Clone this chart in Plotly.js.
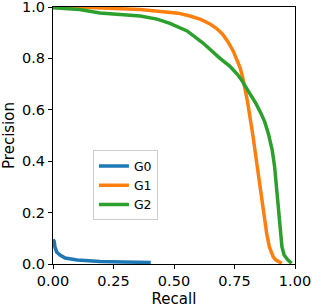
<!DOCTYPE html>
<html>
<head>
<meta charset="utf-8">
<script src="https://cdn.plot.ly/plotly-3.0.1.min.js"></script>
<style>html,body{margin:0;padding:0;background:#fff;}#chart{width:312px;height:308px;}</style>
</head>
<body>
<div id="chart"></div>
<script>
// G0
var g0Recall = [0.0, 0.005, 0.008, 0.015, 0.029, 0.05, 0.1, 0.194, 0.29, 0.404];
var g0Precision = [0.095, 0.088, 0.066, 0.047, 0.035, 0.023, 0.016, 0.010, 0.008, 0.006];
// G1
var g1Recall = [0.0, 0.124, 0.36, 0.483, 0.517, 0.566, 0.61, 0.649, 0.675, 0.70, 0.722, 0.744, 0.76, 0.773, 0.784, 0.793, 0.803, 0.825, 0.844, 0.865, 0.883, 0.894, 0.903, 0.91, 0.92, 0.931, 0.945];
var g1Precision = [1.0, 0.999, 0.99, 0.981, 0.976, 0.965, 0.952, 0.934, 0.917, 0.895, 0.866, 0.83, 0.795, 0.764, 0.725, 0.686, 0.636, 0.507, 0.377, 0.248, 0.119, 0.067, 0.042, 0.028, 0.016, 0.009, 0.003];
// G2
var g2Recall = [0.0, 0.11, 0.194, 0.277, 0.36, 0.43, 0.483, 0.554, 0.62, 0.69, 0.73, 0.76, 0.78, 0.80, 0.82, 0.84, 0.86, 0.875, 0.89, 0.906, 0.916, 0.927, 0.941, 0.946, 0.955, 0.97, 0.986];
var g2Precision = [0.997, 0.99, 0.977, 0.972, 0.965, 0.953, 0.936, 0.907, 0.86, 0.80, 0.770, 0.740, 0.715, 0.683, 0.655, 0.622, 0.585, 0.553, 0.507, 0.442, 0.377, 0.248, 0.119, 0.067, 0.035, 0.016, 0.003];

var names = ['G0', 'G1', 'G2'];
var colors = ['#1f77b4', '#ff7f0e', '#2ca02c'];
var xs = [g0Recall, g1Recall, g2Recall];
var ys = [g0Precision, g1Precision, g2Precision];

var traces = names.map(function(n, i) {
  return {x: xs[i], y: ys[i], name: n, type: 'scatter', mode: 'lines',
          line: {color: colors[i], width: 3.5}};
});

var fam = 'DejaVu Sans, sans-serif';
var tickFont = {family: fam, size: 14.5, color: '#000'};
var titleFont = {family: fam, size: 15, color: '#000'};
var legFont = {family: fam, size: 12.5, color: '#000'};
var layout = {
  width: 312, height: 308,
  margin: {l: 53, r: 17, t: 7, b: 44},
  paper_bgcolor: '#fff', plot_bgcolor: '#fff',
  font: tickFont,
  showlegend: true,
  legend: {x: 0.165, y: 0.442, xanchor: 'left', yanchor: 'top',
           bordercolor: '#cccccc', borderwidth: 1, bgcolor: '#fff',
           font: legFont, tracegroupgap: 0},
  xaxis: {range: [0, 1], tickvals: [0, 0.25, 0.5, 0.75, 1.0],
          ticktext: ['0.00', '0.25', '0.50', '0.75', '1.00'],
          showgrid: false, zeroline: false, showline: true, mirror: true,
          linecolor: '#000', linewidth: 1, ticks: 'outside', ticklen: 4, tickcolor: '#000',
          ticklabeloverflow: 'allow',
          tickfont: tickFont, title: {text: 'Recall', font: titleFont, standoff: 5}},
  yaxis: {range: [0, 1], tickvals: [0, 0.2, 0.4, 0.6, 0.8, 1.0],
          ticktext: ['0.0', '0.2', '0.4', '0.6', '0.8', '1.0'],
          showgrid: false, zeroline: false, showline: true, mirror: true,
          linecolor: '#000', linewidth: 1, ticks: 'outside', ticklen: 4, tickcolor: '#000',
          ticklabeloverflow: 'allow',
          tickfont: tickFont, title: {text: 'Precision', font: titleFont, standoff: 3}}
};
Plotly.newPlot('chart', traces, layout, {displayModeBar: false, staticPlot: true});
</script>
</body>
</html>
